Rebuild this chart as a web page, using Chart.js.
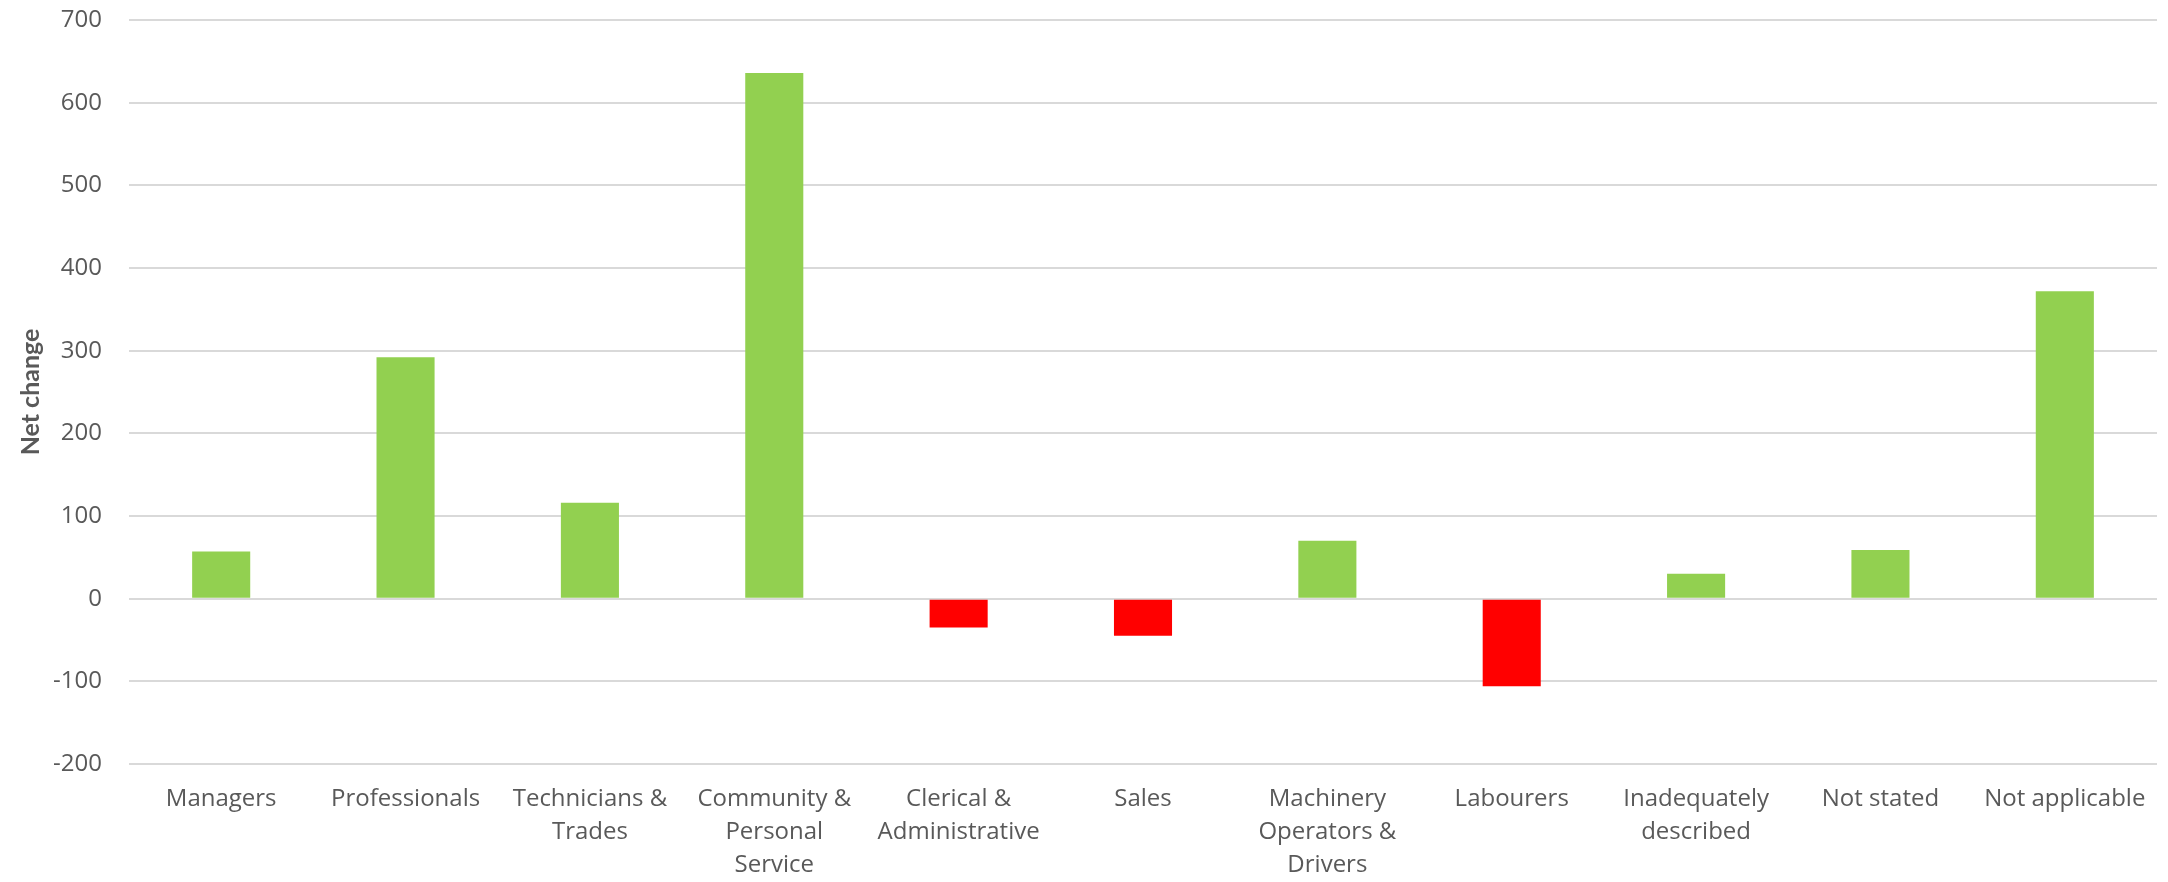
<!DOCTYPE html>
<html>
<head>
<meta charset="utf-8">
<script src="https://cdn.jsdelivr.net/npm/chart.js@4/dist/chart.umd.min.js"></script>
<style>
  html, body { margin: 0; padding: 0; background: #ffffff; }
  #wrap { width: 2168px; height: 882px; }
</style>
</head>
<body>
<div id="wrap"><canvas id="chart" width="2168" height="882"></canvas></div>
<script>
// net change by occupation
const categories = [
    'Managers',
    'Professionals',
    ['Technicians &', 'Trades'],
    ['Community &', 'Personal', 'Service'],
    ['Clerical &', 'Administrative'],
    'Sales',
    ['Machinery', 'Operators &', 'Drivers'],
    'Labourers',
    ['Inadequately', 'described'],
    'Not stated',
    'Not applicable',
];
const netChange = [57, 292, 116, 636, -35, -45, 70, -106, 30, 59, 372];
const yTicks = [-200, -100, 0, 100, 200, 300, 400, 500, 600, 700];

const GAIN = '#92d050';
const LOSS = '#ff0000';
const TEXT = '#595959';
const GRID = '#d9d9d9';

new Chart(document.getElementById('chart'), {
    type: 'bar',
    data: {
        labels: categories,
        datasets: [{
            label: 'Net change',
            data: netChange,
            backgroundColor: netChange.map(v => (v < 0 ? LOSS : GAIN)),
            borderWidth: 0,
            barPercentage: 0.315,
            categoryPercentage: 1,
        }],
    },
    options: {
        responsive: false,
        animation: false,
        layout: { padding: { top: 20, right: 11, left: 0, bottom: 0 } },
        plugins: {
            legend: { display: false },
            tooltip: { enabled: false },
        },
        scales: {
            x: {
                offset: true,
                grid: { display: false, drawTicks: false },
                border: { display: false },
                ticks: {
                    color: TEXT,
                    font: { family: 'Open Sans', size: 24, lineHeight: 1.375 },
                    padding: 19,
                    maxRotation: 0,
                    autoSkip: false,
                },
                afterFit: scale => { scale.height = 118; },
            },
            y: {
                min: yTicks[0],
                max: yTicks[yTicks.length - 1],
                afterBuildTicks: scale => {
                    scale.ticks = yTicks.map(value => ({ value }));
                },
                grid: { color: GRID, lineWidth: 2, drawTicks: false },
                border: { display: false },
                ticks: {
                    color: TEXT,
                    font: { family: 'Open Sans', size: 24 },
                    padding: 27,
                },
                title: {
                    display: true,
                    text: 'Net change',
                    color: TEXT,
                    font: { family: 'Lato', size: 25, weight: 'bold' },
                    padding: { top: 16, bottom: 0 },
                },
                afterFit: scale => {
                    // fixed axis width; keep tick padding from pushing the plot down
                    scale.width = 129;
                    scale.paddingTop = 0;
                    scale.paddingBottom = 0;
                },
            },
        },
    },
});
</script>
</body>
</html>
